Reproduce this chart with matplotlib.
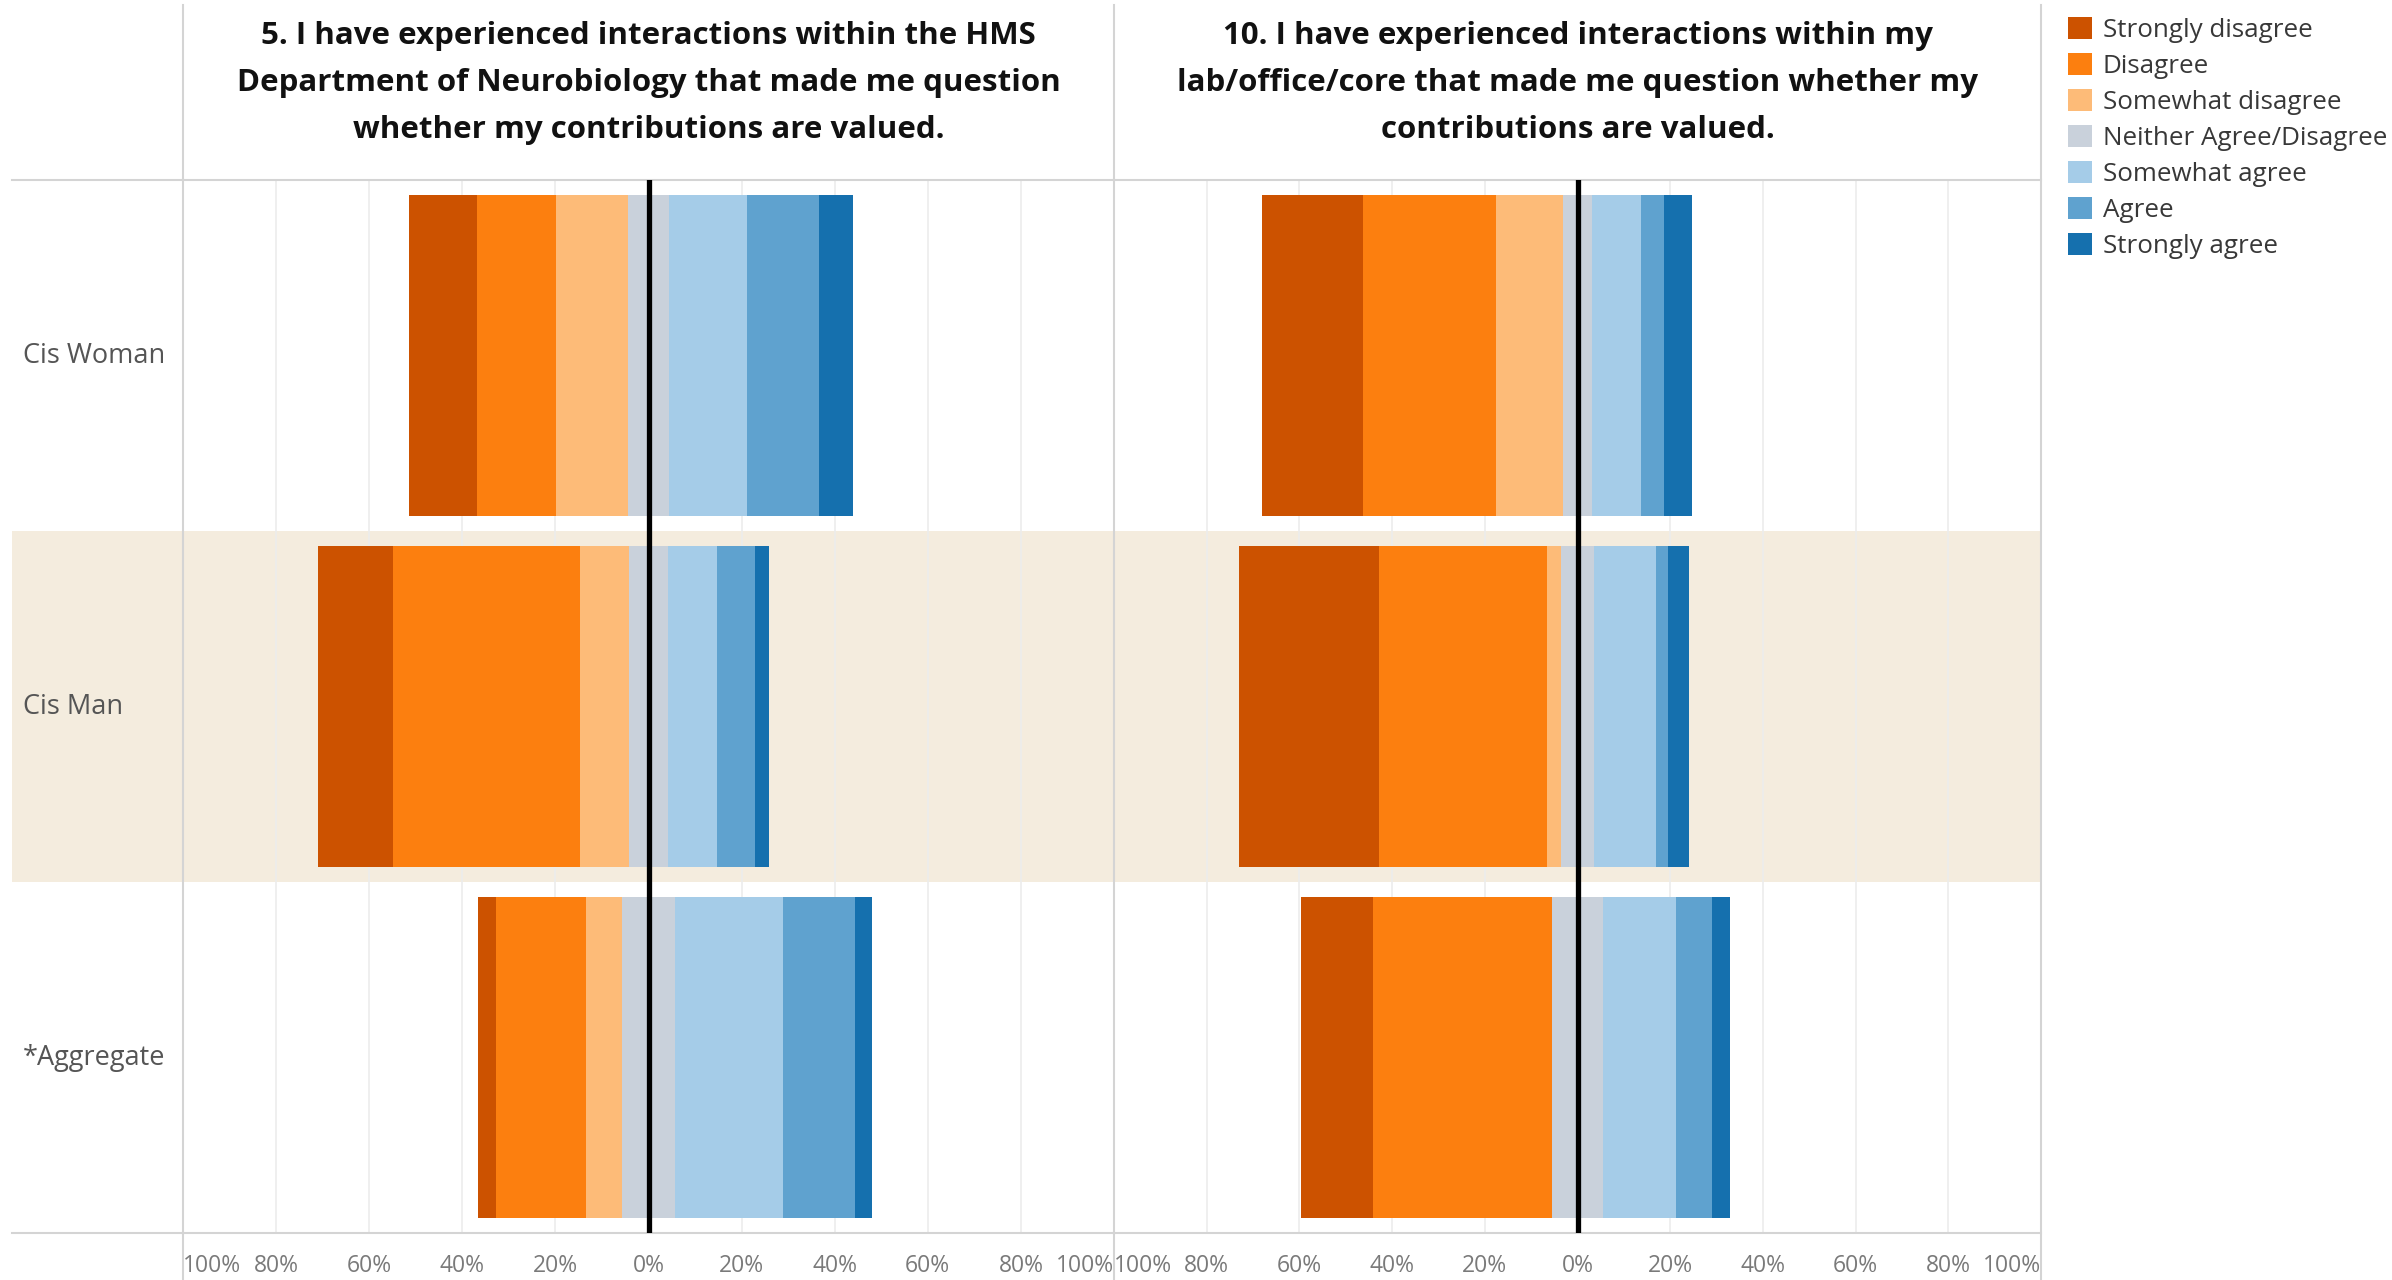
import matplotlib
matplotlib.use("Agg")
import matplotlib.pyplot as plt
from matplotlib.patches import Patch
from matplotlib.lines import Line2D
import numpy as np

# ---------------- data ----------------
groups = ["Cis Woman", "Cis Man", "*Aggregate"]
responses = ["Strongly disagree", "Disagree", "Somewhat disagree",
             "Neither Agree/Disagree", "Somewhat agree", "Agree", "Strongly agree"]
colors = ["#CC5200", "#FC7F0F", "#FDBB78", "#C9D1DB", "#A5CCE8", "#5FA2CF", "#1570AE"]

q5_title = ["5. I have experienced interactions within the HMS",
            "Department of Neurobiology that made me question",
            "whether my contributions are valued."]
q10_title = ["10. I have experienced interactions within my",
             "lab/office/core that made me question whether my",
             "contributions are valued."]

# percent of respondents, per group (Cis Woman, Cis Man, *Aggregate)
q5_strongly_disagree = [14.6, 16.1, 3.9]
q5_disagree = [16.9, 40.2, 19.2]
q5_somewhat_disagree = [15.6, 10.5, 7.7]
q5_neither = [8.6, 8.5, 11.6]
q5_somewhat_agree = [16.9, 10.5, 23.2]
q5_agree = [15.4, 8.2, 15.4]
q5_strongly_agree = [7.4, 3.0, 3.7]

q10_strongly_disagree = [21.7, 30.3, 15.4]
q10_disagree = [28.8, 36.3, 38.7]
q10_somewhat_disagree = [14.3, 2.9, 0.0]
q10_neither = [6.4, 7.2, 10.9]
q10_somewhat_agree = [10.5, 13.3, 15.8]
q10_agree = [4.9, 2.7, 7.7]
q10_strongly_agree = [6.1, 4.4, 4.0]

tick_values = [-100, -80, -60, -40, -20, 0, 20, 40, 60, 80, 100]
tick_labels = ["100%", "80%", "60%", "40%", "20%", "0%", "20%", "40%", "60%", "80%", "100%"]

# ---------------- style ----------------
plt.rcParams["font.family"] = ["Open Sans", "DejaVu Sans"]
W, H, DPI = 2392, 1280, 100
BAND = "#F4ECDE"
LINE = "#D4D4D4"
GRID = "#ECECEC"

fig = plt.figure(figsize=(W / DPI, H / DPI), dpi=DPI)
fig.patch.set_facecolor("white")


def fx(px):
    return px / W


def fy(py):
    return 1 - py / H


TOP, BOTTOM = 180, 1233
LAB_L, P1_L, P2_L, P2_R = 12, 183, 1114, 2041


def rect(x0, x1):
    return [fx(x0), fy(BOTTOM), fx(x1) - fx(x0), fy(TOP) - fy(BOTTOM)]


# label column
lab_ax = fig.add_axes(rect(LAB_L, P1_L))
lab_ax.set_xlim(0, 1)
lab_ax.set_ylim(len(groups) - 0.5, -0.5)
lab_ax.axhspan(0.5, 1.5, color=BAND, lw=0, zorder=0)
for i, g in enumerate(groups):
    lab_ax.text(0.064, i, g, ha="left", va="center", fontsize=19.5, color="#555555")
lab_ax.set_xticks([])
lab_ax.set_yticks([])
for s in ["left", "right"]:
    lab_ax.spines[s].set_visible(False)
for s in ["top", "bottom"]:
    lab_ax.spines[s].set_color(LINE)
    lab_ax.spines[s].set_linewidth(1.5)


def draw_panel(ax, series, title_lines, cx):
    vals = np.array(series, dtype=float)  # responses x groups
    y = np.arange(len(groups))
    start = -(vals[0] + vals[1] + vals[2] + vals[3] / 2.0)
    left = start.copy()
    for k in range(len(responses)):
        ax.barh(y, vals[k], left=left, height=0.915, color=colors[k],
                edgecolor="none", zorder=2)
        left = left + vals[k]
    ax.set_xlim(-100, 100)
    ax.set_ylim(len(groups) - 0.5, -0.5)
    ax.axhspan(0.5, 1.5, color=BAND, lw=0, zorder=0)
    ax.axvline(0, color="black", lw=3.8, zorder=4)
    ax.set_xticks(tick_values)
    ax.set_xticklabels(tick_labels)
    ax.set_yticks([])
    ax.tick_params(axis="x", length=0, pad=15, labelsize=16.5, labelcolor="#7A7A7A")
    tl = ax.get_xticklabels()
    tl[0].set_ha("left")
    tl[-1].set_ha("right")
    ax.grid(axis="x", color=GRID, lw=1.2)
    ax.set_axisbelow(True)
    for s in ["left", "right"]:
        ax.spines[s].set_visible(False)
    for s in ["top", "bottom"]:
        ax.spines[s].set_color(LINE)
        ax.spines[s].set_linewidth(1.5)
    for j, line in enumerate(title_lines):
        fig.text(fx(cx), fy(36 + 47 * j), line, ha="center", va="center",
                 fontsize=22.5, fontweight="bold", color="#111111")


ax1 = fig.add_axes(rect(P1_L, P2_L))
draw_panel(ax1, [q5_strongly_disagree, q5_disagree, q5_somewhat_disagree, q5_neither,
                 q5_somewhat_agree, q5_agree, q5_strongly_agree], q5_title, (P1_L + P2_L) / 2)
ax2 = fig.add_axes(rect(P2_L, P2_R))
draw_panel(ax2, [q10_strongly_disagree, q10_disagree, q10_somewhat_disagree, q10_neither,
                 q10_somewhat_agree, q10_agree, q10_strongly_agree], q10_title, (P2_L + P2_R) / 2)

# panel separators (full height)
for xp in [P1_L, P2_L, P2_R]:
    fig.add_artist(Line2D([fx(xp), fx(xp)], [fy(5), fy(H)], color=LINE, lw=1.5,
                          transform=fig.transFigure, zorder=1))

# legend
handles = [Patch(facecolor=c, edgecolor="none", label=r) for c, r in zip(colors, responses)]
leg = fig.legend(handles=handles, loc="upper left", bbox_to_anchor=(fx(2068), fy(17)),
                 frameon=False, fontsize=18.7, handlelength=0.92, handleheight=0.92,
                 handletextpad=0.42, labelspacing=0.39, borderaxespad=0, borderpad=0)
for t in leg.get_texts():
    t.set_color("#383838")

fig.savefig("out.png", dpi=DPI, facecolor="white")
